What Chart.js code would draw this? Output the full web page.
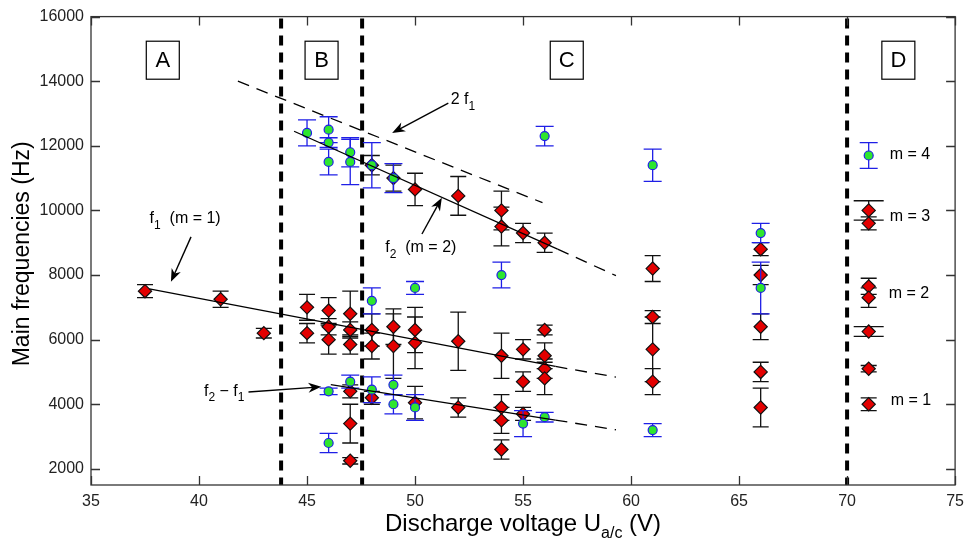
<!DOCTYPE html>
<html>
<head>
<meta charset="utf-8">
<title>Main frequencies vs discharge voltage</title>
<script src="https://cdn.jsdelivr.net/npm/chart.js@4.4.1/dist/chart.umd.min.js"></script>
<style>
  html, body { margin: 0; padding: 0; background: #fff; }
  #wrap { width: 971px; height: 539px; }
</style>
</head>
<body>
<div id="wrap"><canvas id="freqChart" width="971" height="539"></canvas></div>
<script>
// Axis ticks
const xTicks = [35, 40, 45, 50, 55, 60, 65, 70, 75];
const yTicks = [2000, 4000, 6000, 8000, 10000, 12000, 14000, 16000];

// Red diamonds (black error bars): voltage, frequency, +/- error
const redX = [37.5, 41, 43, 45, 45, 46, 46, 46, 47, 47, 47, 47, 47, 47,
  48, 48, 48, 48, 49, 49, 49, 50, 50, 50, 50, 52, 52, 52,
  54, 54, 54, 54, 54, 54, 55, 55, 55, 55, 56, 56, 56, 56, 56,
  61, 61, 61, 61, 66, 66, 66, 66, 66, 71, 71, 71, 71, 71, 71, 71];
const redY = [7500, 7250, 6200, 7000, 6200, 6900, 6400, 6000, 6800, 6300, 5850, 4400, 3400, 2250,
  11400, 6300, 5800, 4200, 11000, 6400, 5800, 10650, 6300, 5900, 4050, 10450, 5950, 3900,
  10000, 9500, 5500, 3900, 3500, 2600, 9300, 5700, 4700, 3700, 9000, 6300, 5500, 5100, 4800,
  8200, 6700, 5700, 4700, 8800, 8000, 6400, 5000, 3900, 10000, 9600, 7650, 7300, 6250, 5100, 4000];
const redErr = [200, 250, 150, 400, 300, 400, 250, 450, 700, 250, 300, 200, 600, 100,
  300, 500, 400, 200, 400, 550, 1000, 500, 700, 800, 500, 600, 900, 300,
  600, 600, 700, 400, 400, 300, 300, 300, 300, 200, 300, 150, 400, 300, 500,
  400, 200, 1000, 400, 200, 300, 400, 300, 600, 300, 200, 250, 300, 150, 100, 200];

// Green circles (blue error bars)
const greenX = [45, 46, 46, 46, 46, 46, 47, 47, 47, 48, 48, 48, 49, 49, 49,
  50, 50, 54, 55, 56, 56, 61, 61, 66, 66, 71];
const greenY = [12400, 12500, 12100, 11500, 4400, 2800, 11800, 11500, 4700, 11400, 7200, 4450, 11000, 4600, 4000,
  7600, 3900, 8000, 3400, 12300, 3600, 11400, 3200, 9300, 7600, 11700];
const greenErr = [400, 400, 150, 400, 100, 300, 450, 700, 200, 700, 400, 400, 450, 300, 300,
  200, 400, 400, 400, 300, 150, 500, 200, 300, 800, 400];

// Fitted lines (solid part, dashed extension)
const fitF2 = [[44.4, 12450], [56.6, 8800]];
const fitF2Ext = [[56.6, 8800], [59.3, 7980]];
const fitF1 = [[37.7, 7570], [56.5, 5170]];
const fitF1Ext = [[56.5, 5170], [59.3, 4840]];
const fitDiff = [[46.1, 4610], [56.5, 3510]];
const fitDiffExt = [[56.5, 3510], [59.3, 3210]];
const twoF1 = [[41.8, 14000], [55.9, 10240]];

// Regime boundaries and labels
const boundaries = [43.8, 47.55, 70];
const regionNames = ["A", "B", "C", "D"];
const regionX = [38.3, 45.65, 57, 72.35];
const regionY = 14650;

const toPts = (xs, ys) => xs.map((x, i) => ({ x: x, y: ys[i] }));
const pairPts = (arr) => arr.map(([x, y]) => ({ x: x, y: y }));

const FONT = "'Liberation Sans', Arial, Helvetica, sans-serif";

// draw text pieces with subscripts, left aligned at x, vertically centered at y
function drawRich(ctx, parts, x, y, size) {
  let cx = x;
  parts.forEach(([txt, sub]) => {
    const fs = sub ? Math.round(size * 0.72) : size;
    ctx.font = fs + "px " + FONT;
    ctx.fillText(txt, cx, sub ? y + size * 0.42 : y);
    cx += ctx.measureText(txt).width;
  });
  return cx - x;
}

function arrow(ctx, x1, y1, x2, y2) {
  const ang = Math.atan2(y2 - y1, x2 - x1);
  const len = 13, half = 5;
  ctx.beginPath();
  ctx.moveTo(x1, y1);
  ctx.lineTo(x2 - Math.cos(ang) * len * 0.6, y2 - Math.sin(ang) * len * 0.6);
  ctx.stroke();
  ctx.beginPath();
  ctx.moveTo(x2, y2);
  ctx.lineTo(x2 - Math.cos(ang) * len - Math.sin(ang) * half, y2 - Math.sin(ang) * len + Math.cos(ang) * half);
  ctx.lineTo(x2 - Math.cos(ang) * len * 0.7, y2 - Math.sin(ang) * len * 0.7);
  ctx.lineTo(x2 - Math.cos(ang) * len + Math.sin(ang) * half, y2 - Math.sin(ang) * len - Math.cos(ang) * half);
  ctx.closePath();
  ctx.fill();
}

// error bars drawn just before each point dataset, so markers sit on top
const errorBars = {
  id: "errorBars",
  beforeDatasetDraw(chart, args) {
    const ds = chart.data.datasets[args.index];
    if (!ds.errors) return;
    const { ctx, scales: { x, y } } = chart;
    ctx.save();
    ctx.strokeStyle = ds.errorColor;
    ctx.lineWidth = 1.3;
    ds.data.forEach((p, i) => {
      const px = x.getPixelForValue(p.x);
      const top = y.getPixelForValue(p.y + ds.errors[i]);
      const bot = y.getPixelForValue(p.y - ds.errors[i]);
      const w = (ds.wideCaps && ds.wideCaps.includes(i)) ? 15 : ds.capHalf;
      ctx.beginPath();
      ctx.moveTo(px, top); ctx.lineTo(px, bot);
      ctx.moveTo(px - w, top); ctx.lineTo(px + w, top);
      ctx.moveTo(px - w, bot); ctx.lineTo(px + w, bot);
      ctx.stroke();
    });
    ctx.restore();
  }
};

// frame, inward ticks, boundaries, region boxes, annotations and axis titles
const decorations = {
  id: "decorations",
  beforeDatasetsDraw(chart) {
    const { ctx, chartArea: a, scales: { x, y } } = chart;
    ctx.save();
    ctx.strokeStyle = "#000";
    ctx.lineWidth = 4;
    ctx.setLineDash([10, 7]);
    boundaries.forEach(b => {
      const px = x.getPixelForValue(b);
      ctx.beginPath();
      ctx.moveTo(px, a.top + 2);
      ctx.lineTo(px, a.bottom);
      ctx.stroke();
    });
    ctx.restore();
  },
  afterDraw(chart) {
    const { ctx, chartArea: a, scales: { x, y } } = chart;
    ctx.save();
    // frame
    ctx.strokeStyle = "#333";
    ctx.lineWidth = 1.3;
    ctx.strokeRect(a.left, a.top, a.right - a.left, a.bottom - a.top);
    ctx.beginPath();
    xTicks.forEach(v => {
      const px = Math.round(x.getPixelForValue(v)) + 0.5;
      ctx.moveTo(px, a.bottom); ctx.lineTo(px, a.bottom - 9);
      ctx.moveTo(px, a.top); ctx.lineTo(px, a.top + 9);
    });
    yTicks.forEach(v => {
      const py = Math.round(y.getPixelForValue(v)) + 0.5;
      ctx.moveTo(a.left, py); ctx.lineTo(a.left + 9, py);
      ctx.moveTo(a.right, py); ctx.lineTo(a.right - 9, py);
    });
    ctx.stroke();

    // region boxes
    ctx.fillStyle = "#000";
    ctx.strokeStyle = "#000";
    ctx.lineWidth = 1.2;
    ctx.textAlign = "center";
    ctx.textBaseline = "middle";
    ctx.font = "22px " + FONT;
    regionNames.forEach((n, i) => {
      const px = x.getPixelForValue(regionX[i]);
      const py = y.getPixelForValue(regionY);
      ctx.fillStyle = "#fff";
      ctx.fillRect(px - 16, py - 19, 33, 38);
      ctx.strokeRect(px - 16, py - 19, 33, 38);
      ctx.fillStyle = "#000";
      ctx.fillText(n, px + 0.5, py + 1);
    });

    // annotations
    ctx.textAlign = "left";
    const P = (vx, vy) => [x.getPixelForValue(vx), y.getPixelForValue(vy)];
    const labels = [
      [[["2 f", false], ["1", true]], 51.65, 13430],
      [[["f", false], ["1", true], ["  (m = 1)", false]], 37.71, 9740],
      [[["f", false], ["2", true], ["  (m = 2)", false]], 48.62, 8840],
      [[["f", false], ["2", true], [" \u2212 f", false], ["1", true]], 40.23, 4400],
      [[["m = 4", false]], 71.97, 11740],
      [[["m = 3", false]], 71.97, 9800],
      [[["m = 2", false]], 71.93, 7420],
      [[["m = 1", false]], 72.02, 4100]
    ];
    labels.forEach(([parts, vx, vy]) => {
      const [px, py] = P(vx, vy);
      drawRich(ctx, parts, px, py, 16);
    });
    ctx.lineWidth = 1.4;
    const arrows = [
      [51.54, 13320, 48.94, 12395],
      [39.63, 9180, 38.70, 7790],
      [50.32, 9270, 51.24, 10390],
      [42.29, 4380, 45.66, 4540]
    ];
    arrows.forEach(([x1, y1, x2, y2]) => {
      const [a1, b1] = P(x1, y1);
      const [a2, b2] = P(x2, y2);
      arrow(ctx, a1, b1, a2, b2);
    });

    // axis titles
    ctx.fillStyle = "#000";
    ctx.textBaseline = "alphabetic";
    const cx = (a.left + a.right) / 2;
    const parts = [["Discharge voltage U", false], ["a/c", true], [" (V)", false]];
    ctx.textAlign = "left";
    let w = 0;
    parts.forEach(([t, s]) => { ctx.font = (s ? 16 : 24) + "px " + FONT; w += ctx.measureText(t).width; });
    let sx = cx - w / 2;
    parts.forEach(([t, s]) => {
      ctx.font = (s ? 16 : 24) + "px " + FONT;
      ctx.fillText(t, sx, s ? 538 : 531);
      sx += ctx.measureText(t).width;
    });
    ctx.save();
    ctx.translate(29, (a.top + a.bottom) / 2 + 3);
    ctx.rotate(-Math.PI / 2);
    ctx.textAlign = "center";
    ctx.font = "23px " + FONT;
    ctx.fillText("Main frequencies (Hz)", 0, 0);
    ctx.restore();
    ctx.restore();
  }
};

const lineStyle = (data, dashed) => ({
  type: "scatter",
  data: pairPts(data),
  showLine: true,
  borderColor: "#000",
  borderWidth: 1.3,
  borderDash: dashed ? [12, 8] : [],
  pointRadius: 0,
  fill: false
});

new Chart(document.getElementById("freqChart"), {
  type: "scatter",
  data: {
    datasets: [
      lineStyle(twoF1, true),
      lineStyle(fitF2, false),
      lineStyle(fitF2Ext, true),
      lineStyle(fitF1, false),
      lineStyle(fitF1Ext, true),
      lineStyle(fitDiff, false),
      lineStyle(fitDiffExt, true),
      {
        label: "m (green)",
        data: toPts(greenX, greenY),
        errors: greenErr,
        errorColor: "#1f1fe6",
        capHalf: 9,
        pointStyle: "circle",
        pointRadius: 4.5,
        backgroundColor: "#2ee62e",
        borderColor: "#1f1fe6",
        borderWidth: 1.2
      },
      {
        label: "f (red)",
        data: toPts(redX, redY),
        errors: redErr,
        errorColor: "#111",
        capHalf: 8,
        wideCaps: [52, 56],
        pointStyle: "rectRot",
        pointRadius: 6.6,
        backgroundColor: "#e30000",
        borderColor: "#111",
        borderWidth: 1.2
      }
    ]
  },
  options: {
    responsive: false,
    animation: false,
    layout: { padding: { top: 16, right: 8, left: 0, bottom: 0 } },
    plugins: {
      legend: { display: false },
      tooltip: { enabled: false }
    },
    scales: {
      x: {
        type: "linear",
        min: 35,
        max: 75,
        afterBuildTicks: (s) => { s.ticks = xTicks.map(v => ({ value: v })); },
        afterFit: (s) => { s.height = 54; },
        grid: { display: false, drawTicks: false },
        border: { display: false },
        ticks: { padding: 7, color: "#222", font: { size: 16, family: FONT }, autoSkip: false, maxRotation: 0,
          callback: (v) => String(v) }
      },
      y: {
        type: "linear",
        min: 1500,
        max: 16000,
        afterBuildTicks: (s) => { s.ticks = yTicks.map(v => ({ value: v })); },
        afterFit: (s) => { s.width = 91; },
        grid: { display: false, drawTicks: false },
        border: { display: false },
        ticks: { padding: 7, color: "#222", font: { size: 16, family: FONT }, autoSkip: false,
          callback: (v) => String(v) }
      }
    }
  },
  plugins: [errorBars, decorations]
});
</script>
</body>
</html>
